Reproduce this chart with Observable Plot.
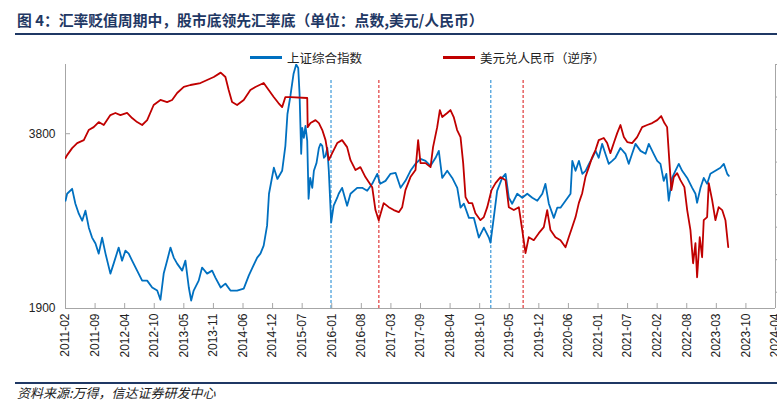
<!DOCTYPE html>
<html><head><meta charset="utf-8">
<script src="https://cdn.jsdelivr.net/npm/d3@7"></script>
<script src="https://cdn.jsdelivr.net/npm/@observablehq/plot@0.6"></script>
<style>
body{margin:0;background:#fff;width:777px;overflow:hidden;}
#title{height:33px;margin-left:15px;border-bottom:2px solid #1f3864;font-family:"Noto Sans CJK SC",sans-serif;font-weight:bold;font-size:14.8px;color:#1f3864;padding-left:2px;line-height:40px;white-space:nowrap;overflow:hidden;}
#legend{position:relative;height:29px;font-family:"Noto Sans CJK SC",sans-serif;font-size:12.5px;color:#222;}
.item{position:absolute;top:14px;height:16px;display:flex;align-items:center;white-space:nowrap;}
.swatch{display:inline-block;width:32px;height:3px;margin-right:5px;}
#source{margin-left:15px;border-top:2px solid #1f3864;height:18px;line-height:18px;font-family:"Noto Sans CJK SC",sans-serif;font-style:italic;font-size:13px;color:#222;padding-left:2px;}
</style></head>
<body>
<div id="title">图 4：汇率贬值周期中，股市底领先汇率底（单位：点数,美元/人民币）</div>
<div id="legend"></div>
<div id="chart"></div>
<div id="source">资料来源:万得，信达证券研发中心</div>
<script>
// ---- data ----
const seriesNames = ["上证综合指数", "美元兑人民币（逆序）"];
const seriesColors = ["#0070c0", "#c00000"];

const sseDates = ["2011-02-15","2011-02-26","2011-04-01","2011-04-23","2011-05-16","2011-06-08","2011-06-30","2011-07-23","2011-08-14","2011-09-06","2011-09-28","2011-10-21","2011-11-13","2011-12-16",
"2012-01-07","2012-02-10","2012-03-04","2012-03-27","2012-04-18","2012-05-11","2012-06-14","2012-07-18","2012-08-21","2012-09-24","2012-10-28","2012-11-19","2012-12-11",
"2013-01-03","2013-01-26","2013-02-17","2013-03-12","2013-04-15","2013-05-07","2013-05-30","2013-06-15","2013-07-02","2013-08-05","2013-08-28","2013-10-01","2013-11-04","2013-11-26",
"2014-01-01","2014-02-02","2014-03-08","2014-04-22","2014-06-06","2014-07-10","2014-08-04","2014-09-05","2014-09-27","2014-10-19","2014-11-11","2014-11-24","2014-12-27",
"2015-01-20","2015-02-21","2015-03-15","2015-03-29","2015-04-18","2015-05-09","2015-05-27","2015-06-10","2015-06-19","2015-06-30","2015-07-07","2015-07-18","2015-07-29","2015-08-10","2015-08-19","2015-08-30","2015-09-13","2015-09-24","2015-10-12","2015-10-28","2015-11-08","2015-11-20","2015-12-01","2015-12-12","2015-12-24",
"2016-01-03","2016-01-19","2016-02-05","2016-02-29","2016-03-10","2016-04-02","2016-05-06","2016-05-29","2016-07-13","2016-08-16","2016-09-19","2016-10-23","2016-11-26","2016-12-16",
"2017-01-21","2017-02-24","2017-03-30","2017-05-03","2017-06-05","2017-07-09","2017-08-12","2017-09-15","2017-10-19","2017-11-22","2017-12-26",
"2018-01-17","2018-02-09","2018-03-15","2018-04-18","2018-05-22","2018-06-13","2018-07-06","2018-08-09","2018-09-11","2018-10-15","2018-11-18","2018-12-22",
"2019-01-02","2019-01-24","2019-02-16","2019-03-22","2019-04-14","2019-05-06","2019-05-29","2019-07-02","2019-08-05","2019-09-08","2019-10-12","2019-11-15","2019-12-19",
"2020-01-09","2020-02-01","2020-03-06","2020-03-29","2020-04-20","2020-05-24","2020-06-27","2020-07-09","2020-07-31","2020-08-23","2020-09-15","2020-10-07","2020-10-30","2020-11-22","2020-12-14",
"2021-01-04","2021-01-27","2021-02-18","2021-03-13","2021-04-05","2021-04-27","2021-05-31","2021-07-04","2021-07-26","2021-08-18","2021-09-10","2021-10-14","2021-11-17","2021-12-09",
"2022-01-11","2022-02-04","2022-02-26","2022-03-20","2022-04-07","2022-04-23","2022-05-16","2022-06-07","2022-06-30","2022-07-23","2022-08-26","2022-09-29","2022-10-21","2022-11-01","2022-11-24","2022-12-16",
"2023-01-08","2023-01-30","2023-03-05","2023-04-08","2023-05-01","2023-05-24","2023-06-04"];
const sseValues = [2913,2995,3054,2879,2767,2691,2800,2618,2517,2458,2362,2517,2362,2182,
2270,2419,2297,2390,2362,2297,2208,2122,2122,2065,2040,1967,2182,
2297,2419,2325,2270,2208,2297,2065,1961,2040,2122,2235,2182,2208,2148,
2065,2097,2040,2040,2056,2165,2235,2325,2362,2438,2639,2995,3320,
3176,3280,3621,4109,4413,4815,5000,4930,4448,3509,3888,3738,3919,3693,2936,3189,3066,3280,3385,3591,3650,3621,3454,3481,3591,
3280,2670,2856,2948,2995,3066,2856,2995,3066,3066,3030,3115,3241,3115,
3152,3241,3254,3066,3152,3280,3372,3440,3412,3346,3454,
3550,3189,3280,3189,3066,2834,2879,2722,2722,2517,2618,2517,
2467,2722,3030,3189,3241,2948,2879,2995,2948,2995,2948,2913,2995,
3115,2879,2722,2834,2834,2913,2995,3412,3280,3412,3241,3280,3372,3454,3550,
3454,3650,3509,3372,3412,3454,3591,3509,3372,3509,3650,3550,3509,3650,
3509,3412,3372,3152,3241,2913,3189,3280,3372,3280,3189,3066,2995,2890,3066,3189,
3115,3241,3280,3320,3372,3241,3215];

const usdDates = ["2011-02-15","2011-02-26","2011-04-01","2011-05-05","2011-06-19","2011-07-22","2011-08-25","2011-09-28","2011-11-01","2011-12-16",
"2012-01-19","2012-02-22","2012-04-07","2012-05-11","2012-06-14","2012-07-18","2012-08-21","2012-10-04","2012-11-19",
"2013-01-03","2013-02-06","2013-03-12","2013-04-26","2013-06-10","2013-08-17","2013-10-01","2013-11-15",
"2014-01-01","2014-02-02","2014-02-24","2014-03-19","2014-04-22","2014-06-06","2014-07-21","2014-08-24","2014-10-19","2014-11-22","2014-12-26",
"2015-01-27","2015-02-21","2015-03-15","2015-04-18","2015-08-10","2015-08-13","2015-09-01","2015-10-05","2015-10-28","2015-11-20","2015-12-12",
"2016-01-03","2016-01-26","2016-02-29","2016-04-02","2016-05-06","2016-05-29","2016-07-02","2016-08-04","2016-09-07","2016-10-23","2016-11-14","2016-12-06",
"2017-01-09","2017-02-12","2017-03-18","2017-04-21","2017-05-14","2017-06-05","2017-07-09","2017-08-12","2017-08-30","2017-09-15","2017-10-19","2017-11-22","2017-12-09",
"2018-01-06","2018-01-24","2018-02-09","2018-03-15","2018-04-06","2018-04-28","2018-05-21","2018-06-13","2018-07-01","2018-07-17","2018-08-08","2018-08-31","2018-09-22","2018-10-26","2018-11-18","2018-12-11",
"2019-01-09","2019-02-05","2019-03-11","2019-04-14","2019-05-06","2019-06-09","2019-07-13","2019-08-05","2019-08-27","2019-09-18","2019-10-22","2019-11-25","2019-12-29",
"2020-01-21","2020-02-12","2020-03-17","2020-04-20","2020-05-24","2020-06-15","2020-07-08","2020-07-31","2020-08-22","2020-09-14","2020-10-06","2020-10-29","2020-11-21","2020-12-13",
"2021-01-04","2021-02-07","2021-03-02","2021-03-24","2021-04-16","2021-05-09","2021-05-31","2021-06-23","2021-07-16","2021-08-18","2021-09-21","2021-10-25","2021-11-28",
"2022-01-01","2022-02-04","2022-03-03","2022-03-25","2022-04-12","2022-04-28","2022-05-11","2022-05-27","2022-06-19","2022-07-11","2022-08-07","2022-08-26","2022-09-17","2022-10-05","2022-10-21","2022-11-01","2022-11-19","2022-12-05","2022-12-16",
"2023-01-08","2023-01-19","2023-02-11","2023-03-05","2023-03-27","2023-04-20","2023-05-12","2023-05-31"];
const usdValues = [6.575,6.557,6.514,6.483,6.465,6.403,6.385,6.354,6.372,6.311,
6.298,6.311,6.298,6.329,6.354,6.372,6.342,6.249,6.218,
6.231,6.218,6.175,6.138,6.126,6.114,6.095,6.077,
6.050,6.077,6.157,6.231,6.249,6.218,6.157,6.138,6.114,6.157,6.200,
6.237,6.262,6.200,6.200,6.206,6.385,6.360,6.342,6.360,6.403,6.465,
6.588,6.545,6.483,6.465,6.508,6.588,6.649,6.631,6.692,6.754,6.895,6.957,
6.852,6.877,6.895,6.908,6.877,6.772,6.692,6.649,6.465,6.606,6.606,6.631,6.508,
6.385,6.280,6.323,6.298,6.280,6.323,6.403,6.446,6.606,6.815,6.852,6.852,6.914,6.957,6.938,6.877,
6.772,6.729,6.692,6.711,6.877,6.895,6.877,7.018,7.160,7.062,7.080,7.037,7.000,
6.895,7.018,7.062,7.080,7.123,7.062,7.000,6.938,6.852,6.791,6.692,6.631,6.569,6.526,
6.465,6.452,6.483,6.545,6.483,6.422,6.372,6.446,6.477,6.483,6.446,6.385,6.372,
6.360,6.342,6.317,6.360,6.385,6.606,6.772,6.692,6.668,6.711,6.754,6.895,7.018,7.222,7.098,7.308,7.062,7.185,6.957,
6.938,6.729,6.834,6.957,6.877,6.895,6.957,7.123];

const xTickLabels = ["2011-02","2011-09","2012-04","2012-10","2013-05","2013-11","2014-06","2014-12","2015-07","2016-01","2016-08","2017-03","2017-09","2018-04","2018-10","2019-05","2019-12","2020-06","2021-01","2021-07","2022-02","2022-08","2023-03","2023-10","2024-04"];
const xStart = "2011-02-15", xEnd = "2024-04-15";
const leftDomain = [1900, 5000];
const leftTicks = [1900, 3800];
const rightDomain = [6.0, 7.5];   // reversed on chart
const rightTicks = [6.0, 6.2, 6.4, 6.6, 6.8, 7.0, 7.2, 7.4];

const markerDates = ["2016-01-18", "2016-12-07", "2019-01-04", "2019-08-11"];
const markerSeries = [0, 1, 0, 1];
const markerTop = 4720;
const markerColors = ["#3d9ad8", "#e03a3a"];

// ---- build ----
const parse = d3.utcParse("%Y-%m-%d");
const sse = sseDates.map((d, i) => ({date: parse(d), value: sseValues[i]}));
const usd = usdDates.map((d, i) => ({date: parse(d), value: usdValues[i]}));
const [lo, hi] = leftDomain, [rlo, rhi] = rightDomain;
const usdToLeft = v => lo * Math.pow(hi / lo, (rhi - v) / (rhi - rlo));
const x0 = parse(xStart), x1 = parse(xEnd);
const xTicks = xTickLabels.map((_, i) => new Date(+x0 + i * (x1 - x0) / (xTickLabels.length - 1)));
const tickLabel = new Map(xTicks.map((d, i) => [+d, xTickLabels[i]]));
const markers = markerDates.map((d, i) => ({date: parse(d), s: markerSeries[i]}));
const gray = "#a6a6a6";

// legend
const legend = document.getElementById("legend");
[250, 443].forEach((left, i) => {
  const it = document.createElement("div");
  it.className = "item"; it.style.left = left + "px";
  it.innerHTML = `<span class="swatch" style="background:${seriesColors[i]}"></span><span>${seriesNames[i]}</span>`;
  legend.appendChild(it);
});

const chart = Plot.plot({
  width: 777, height: 318,
  marginTop: 0, marginRight: 2, marginBottom: 74, marginLeft: 65,
  style: {fontFamily: '"Liberation Sans", Arial, sans-serif', fontSize: "12px", color: "#222", background: "white"},
  x: {type: "utc", domain: [x0, x1], axis: null},
  y: {type: "log", domain: leftDomain, axis: null},
  marks: [
    Plot.ruleX(markers.filter(d => d.s === 0), {x: "date", y1: lo, y2: markerTop, stroke: markerColors[0], strokeWidth: 1.2, strokeDasharray: "3,2"}),
    Plot.ruleX(markers.filter(d => d.s === 1), {x: "date", y1: lo, y2: markerTop, stroke: markerColors[1], strokeWidth: 1.2, strokeDasharray: "3,2"}),
    Plot.ruleX([x0], {stroke: gray}),
    Plot.ruleX([x1], {stroke: gray}),
    Plot.ruleY([lo], {stroke: gray}),
    Plot.tickX(xTicks, {x: d => d, insetTop: 239, stroke: gray}),
    Plot.tickY(leftTicks.slice(1), {y: d => d, insetRight: 705, stroke: gray}),
    Plot.axisX(xTicks, {label: null, tickSize: 0, tickPadding: 5, tickRotate: -90, tickFormat: d => tickLabel.get(+d), fontSize: 12, fill: "#222"}),
    Plot.axisY(leftTicks, {label: null, anchor: "left", tickSize: 0, tickPadding: 10, tickFormat: d3.format("d"), fontSize: 12, fill: "#222"}),
    Plot.axisY(rightTicks.map(usdToLeft), {label: null, anchor: "right", tickSize: 4, tickFormat: () => "", stroke: gray}),
    Plot.lineY(sse, {x: "date", y: "value", stroke: seriesColors[0], strokeWidth: 1.8, clip: true}),
    Plot.lineY(usd, {x: "date", y: d => usdToLeft(d.value), stroke: seriesColors[1], strokeWidth: 1.8, clip: true})
  ]
});
document.getElementById("chart").appendChild(chart);
</script>
</body></html>
